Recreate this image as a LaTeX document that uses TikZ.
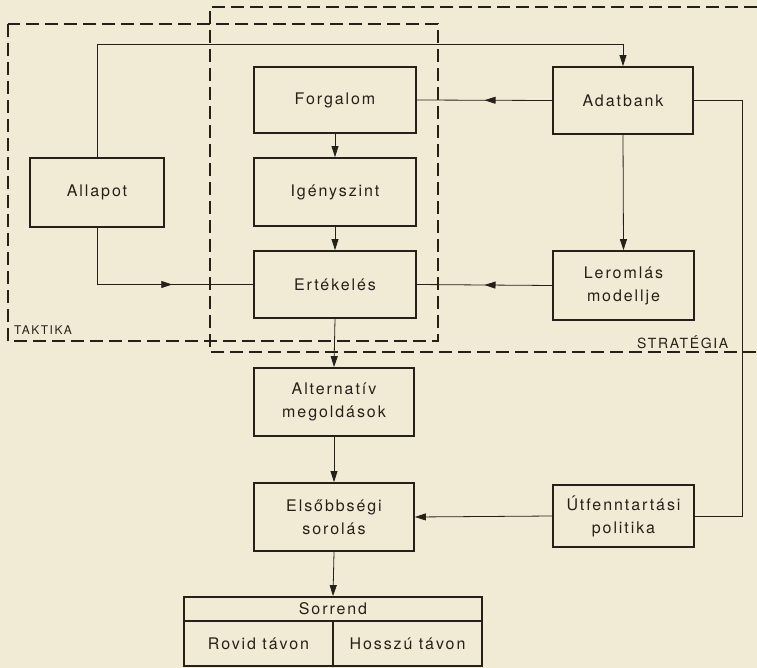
\documentclass[tikz,border=0pt]{standalone}
\usepackage{fontspec}
\setmainfont{TeX Gyre Heros}[LetterSpace=12]
\usetikzlibrary{arrows.meta,decorations.markings}
\definecolor{paper}{RGB}{241,235,213}
\definecolor{ink}{RGB}{38,32,26}
\tikzset{
  box/.style={draw=ink, line width=1.8pt, align=center, inner sep=0pt,
    font=\fontsize{16}{23}\selectfont, text=ink},
  conn/.style={draw=ink, line width=0.8pt},
  endarr/.style={-{Triangle[length=11pt,width=7pt]}},
  midarr/.style={postaction={decorate}, decoration={markings,
    mark=at position #1 with {\arrow{Triangle[length=11pt,width=7pt]}}}},
  zone/.style={draw=ink, line width=1.1pt, dash pattern=on 13pt off 6pt},
  zonelabel/.style={text=ink, inner sep=0pt, anchor=base west}
}
\begin{document}
\begin{tikzpicture}[x=1pt,y=-1pt]
\fill[paper] (0,0) rectangle (757,668);
\useasboundingbox (0,0) rectangle (757,668);

% zones
\draw[zone] (8,24) rectangle (438,341);
\draw[zone] (757,7) -- (210,7) -- (210,352) -- (757,352);
\node[zonelabel, font=\fontsize{12}{14}\selectfont] (taktika) at (14,334) {TAKTIKA};
\node[zonelabel, font=\fontsize{14}{16}\selectfont] (strategia) at (637,348) {STRATÉGIA};

% boxes
\node[box, minimum width=162pt, minimum height=66pt] (forgalom) at (335,100) {Forgalom};
\node[box, minimum width=162pt, minimum height=68pt] (igeny) at (335,192) {Igényszint};
\node[box, minimum width=162pt, minimum height=67pt] (ertek) at (335,284.5) {Ertékelés};
\node[box, minimum width=140pt, minimum height=67pt] (adat) at (623,100.5) {Adatbank};
\node[box, minimum width=134pt, minimum height=69pt] (allapot) at (97,192.5) {Allapot};
\node[box, minimum width=141pt, minimum height=69pt] (lerom) at (623.5,285.5) {Leromlás\\modellje};
\node[box, minimum width=160pt, minimum height=68pt] (alter) at (334,402) {Alternatív\\megoldások};
\node[box, minimum width=160pt, minimum height=68pt] (elso) at (334,517) {Elsőbbségi\\sorolás};
\node[box, minimum width=141pt, minimum height=62pt] (utf) at (623.5,516) {Útfenntartási\\politika};
\node[box, minimum width=298pt, minimum height=24pt] (sorrend) at (333,609) {Sorrend};
\node[box, minimum width=149pt, minimum height=45pt] (rovid) at (258.5,643.5) {Rovid távon};
\node[box, minimum width=149pt, minimum height=45pt] (hosszu) at (407.5,643.5) {Hosszú távon};

% helper coordinates
\coordinate (topc) at (97,44);
\coordinate (rightc) at (742,300);

% connectors
\draw[conn, endarr] (allapot.north) |- (topc) -| (adat.north);
\draw[conn, midarr=0.5] (adat.west) -- (forgalom.east);
\draw[conn, endarr] (forgalom.south) -- (igeny.north);
\draw[conn, endarr] (igeny.south) -- (ertek.north);
\draw[conn, midarr=0.62] (allapot.south) |- (ertek.west);
\draw[conn, midarr=0.5] (lerom.west) -- (ertek.east);
\draw[conn, endarr] (adat.south) -- (lerom.north);
\draw[conn, endarr] (ertek.south) -- (alter.north);
\draw[conn, endarr] (alter.south) -- (elso.north);
\draw[conn, endarr] (utf.west) -- (elso.east);
\draw[conn] (adat.east) -| (rightc) |- (utf.east);
\draw[conn, endarr] (elso.south) -- (sorrend.north);
\end{tikzpicture}
\end{document}
